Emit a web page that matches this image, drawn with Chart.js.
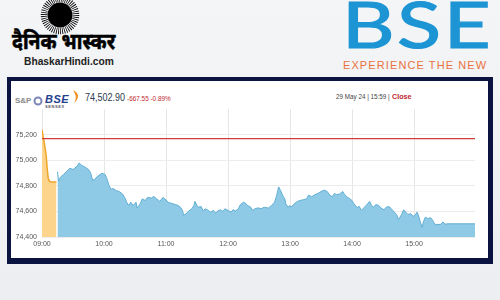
<!DOCTYPE html>
<html>
<head>
<meta charset="utf-8">
<script src="https://cdn.jsdelivr.net/npm/chart.js@4.4.0/dist/chart.umd.min.js"></script>
<style>
body{margin:0;width:500px;height:300px;overflow:hidden;position:relative;background:linear-gradient(180deg,#f4f5f7 0%,#eceef1 100%);font-family:"Liberation Sans",Arial,sans-serif}
.abs{position:absolute;white-space:nowrap}
#frame{left:7px;top:77px;width:486px;height:187px;background:#0b1340}
#panel{left:11px;top:81px;width:477px;height:177px;background:#fff}
#wrap{left:11px;top:100px;width:478px;height:156px}
.squeeze{transform-origin:0 0}
</style>
</head>
<body>
<svg class="abs" style="left:40px;top:-4px" width="40" height="40" viewBox="0 0 40 40">
  <circle cx="20" cy="19" r="12.5" fill="#000"/>
  <circle cx="20" cy="19" r="16" fill="none" stroke="#000" stroke-width="6.5" stroke-dasharray="0.8 1.2"/>
</svg>
<div class="abs squeeze" style="left:12px;top:29px;font:bold 22px 'Noto Sans Devanagari','Lohit Devanagari','FreeSans','Noto Sans',sans-serif;color:#000;-webkit-text-stroke:0.6px #000;transform:scaleX(0.88)">दैनिक भास्कर</div>
<div class="abs squeeze" style="left:24px;top:55px;font-weight:bold;font-size:11px;color:#222;transform:scaleX(0.93)">BhaskarHindi.com</div>

<div class="abs squeeze" style="left:342px;top:-8px;font:400 64px Lato,sans-serif;line-height:64px;color:#1d95d4;-webkit-text-stroke:1.2px #1d95d4;letter-spacing:2px;transform:scaleX(1.27)">BSE</div>
<div class="abs" style="left:343px;top:59px;font-size:11px;color:#e8713c;letter-spacing:1.1px">EXPERIENCE THE NEW</div>

<div id="frame" class="abs"></div>
<div id="panel" class="abs"></div>

<div class="abs" style="left:15px;top:96px;font-weight:bold;font-size:8px;color:#8a8a8a">S&amp;P</div>
<svg class="abs" style="left:33px;top:96px" width="10" height="10"><circle cx="5" cy="5" r="3.5" fill="none" stroke="#7d86b8" stroke-width="2"/></svg>
<div class="abs" style="left:45px;top:93px;font:italic bold 11px 'Liberation Sans',sans-serif;color:#23408e;letter-spacing:0.5px">BSE</div>
<div class="abs" style="left:45px;top:104px;font-size:4px;color:#556;letter-spacing:0.6px;font-weight:bold">SENSEX</div>
<svg class="abs" style="left:71px;top:89px" width="9" height="15"><path d="M2 1 C8 4 9 9 3 14 C6 9 5 6 2 1Z" fill="#f0901e"/></svg>
<div class="abs squeeze" style="left:85px;top:91px;font-size:11.5px;color:#2c3a4c;transform:scaleX(0.78)">74,502.90</div>
<div class="abs squeeze" style="left:127px;top:94px;font-size:8px;color:#c0272d;transform:scaleX(0.8)">-667.55 -0.89%</div>
<div class="abs squeeze" style="left:336px;top:92px;font-size:7.5px;color:#444;transform:scaleX(0.84)">29 May 24 | 15:59 |</div>
<div class="abs squeeze" style="left:392px;top:92px;font-size:8px;font-weight:bold;color:#c0272d;transform:scaleX(0.9)">Close</div>

<div id="wrap" class="abs"><canvas id="chart" width="478" height="156"></canvas></div>

<script>
// minutes after 09:00
const preOpenMins = [0, 1, 2, 3, 4, 5, 6, 7, 8, 10, 12, 14];
const preOpenVals = [75240, 75190, 75150, 75095, 75040, 74940, 74860, 74840, 74832, 74830, 74830, 74830];

const sessionMins = [15,16,18,21,24,27,30,34,36,38,42,45,47,49,51,54,58,61,63,65,67,69,72,75,78,80,82,84,86,88,91,92,95,97,100,102,106,108,111,114,117,120,122,125,129,132,134,136,137,140,142,145,147,148,150,151,154,156,158,161,163,166,168,170,173,175,177,180,183,185,187,190,192,195,197,199,202,204,206,209,212,215,219,222,225,227,229,231,233,235,236,238,240,241,243,246,249,252,256,258,261,264,267,270,273,276,278,281,283,285,288,291,293,295,298,300,302,305,307,309,312,315,317,319,321,323,326,328,331,333,336,338,340,343,345,348,350,352,354,357,359,361,363,365,366,368,369,371,373,376,378,380,383,386,388,390,392,419];
const sessionVals = [74910,74838,74870,74890,74915,74938,74928,74954,74980,74962,74946,74928,74902,74844,74851,74877,74898,74890,74851,74800,74774,74779,74762,74754,74736,74710,74672,74646,74672,74646,74672,74626,74659,74698,74685,74710,74705,74718,74698,74679,74710,74690,74672,74664,74654,74646,74633,74608,74569,74587,74603,74621,74646,74679,74646,74633,74638,74603,74621,74608,74595,74608,74587,74603,74613,74600,74621,74608,74595,74615,74603,74621,74654,74672,74664,74646,74633,74608,74621,74628,74621,74633,74626,74646,74672,74723,74792,74762,74723,74698,74659,74633,74646,74633,74651,74672,74685,74690,74698,74728,74715,74731,74741,74756,74767,74756,74731,74715,74741,74731,74736,74756,74731,74715,74698,74685,74659,74630,74640,74608,74633,74659,74679,74646,74633,74654,74646,74626,74613,74633,74638,74621,74603,74577,74536,74577,74613,74595,74577,74582,74562,74569,74595,74551,74518,74475,74518,74556,74544,74551,74531,74500,74497,74500,74518,74500,74503,74503];

const prevClose = 75170.45;
const hourLabels = ["09:00", "10:00", "11:00", "12:00", "13:00", "14:00", "15:00"];
const yTicks = [74400, 74600, 74800, 75000, 75200];

const toPoints = (xs, ys) => xs.map((x, i) => ({ x: x, y: ys[i] }));

new Chart(document.getElementById("chart"), {
    type: "line",
    data: {
        datasets: [
            {
                data: [{ x: 0, y: prevClose }, { x: 419, y: prevClose }],
                borderColor: "#d23a3a",
                borderWidth: 1.2,
                pointRadius: 0,
                fill: false
            },
            {
                data: toPoints(preOpenMins, preOpenVals),
                borderColor: "#f0a52a",
                backgroundColor: "#fdd48c",
                borderWidth: 1.5,
                pointRadius: 0,
                fill: "start"
            },
            {
                data: toPoints(sessionMins, sessionVals),
                borderColor: "#62aed3",
                backgroundColor: "#8ecae6",
                borderWidth: 1,
                pointRadius: 0,
                fill: "start"
            }
        ]
    },
    options: {
        responsive: false,
        animation: false,
        layout: { padding: { top: 8, right: 14, left: 0, bottom: 0 } },
        plugins: { legend: { display: false }, tooltip: { enabled: false } },
        scales: {
            x: {
                type: "linear",
                min: 0,
                max: 419,
                afterBuildTicks: s => { s.ticks = hourLabels.map((l, i) => ({ value: i * 60 })); },
                afterFit: s => { s.height = 19; },
                ticks: {
                    autoSkip: false,
                    maxRotation: 0,
                    padding: 3,
                    color: "#555",
                    font: { family: "Liberation Sans", size: 7 },
                    callback: v => hourLabels[v / 60]
                },
                grid: { color: "#e6e6e6", drawTicks: false },
                border: { display: false }
            },
            y: {
                min: 74400,
                max: 75400,
                afterBuildTicks: s => { s.ticks = yTicks.map(v => ({ value: v })).concat([{ value: 75400 }]); },
                afterFit: s => { s.width = 31; },
                ticks: {
                    padding: 5,
                    color: "#555",
                    font: { family: "Liberation Sans", size: 7 },
                    callback: v => yTicks.includes(v) ? v.toLocaleString("en-US") : ""
                },
                grid: { color: c => c.tick && c.tick.value === 75400 ? "rgba(0,0,0,0)" : "#ececec", drawTicks: false },
                border: { display: false }
            }
        }
    }
});
</script>
</body>
</html>
